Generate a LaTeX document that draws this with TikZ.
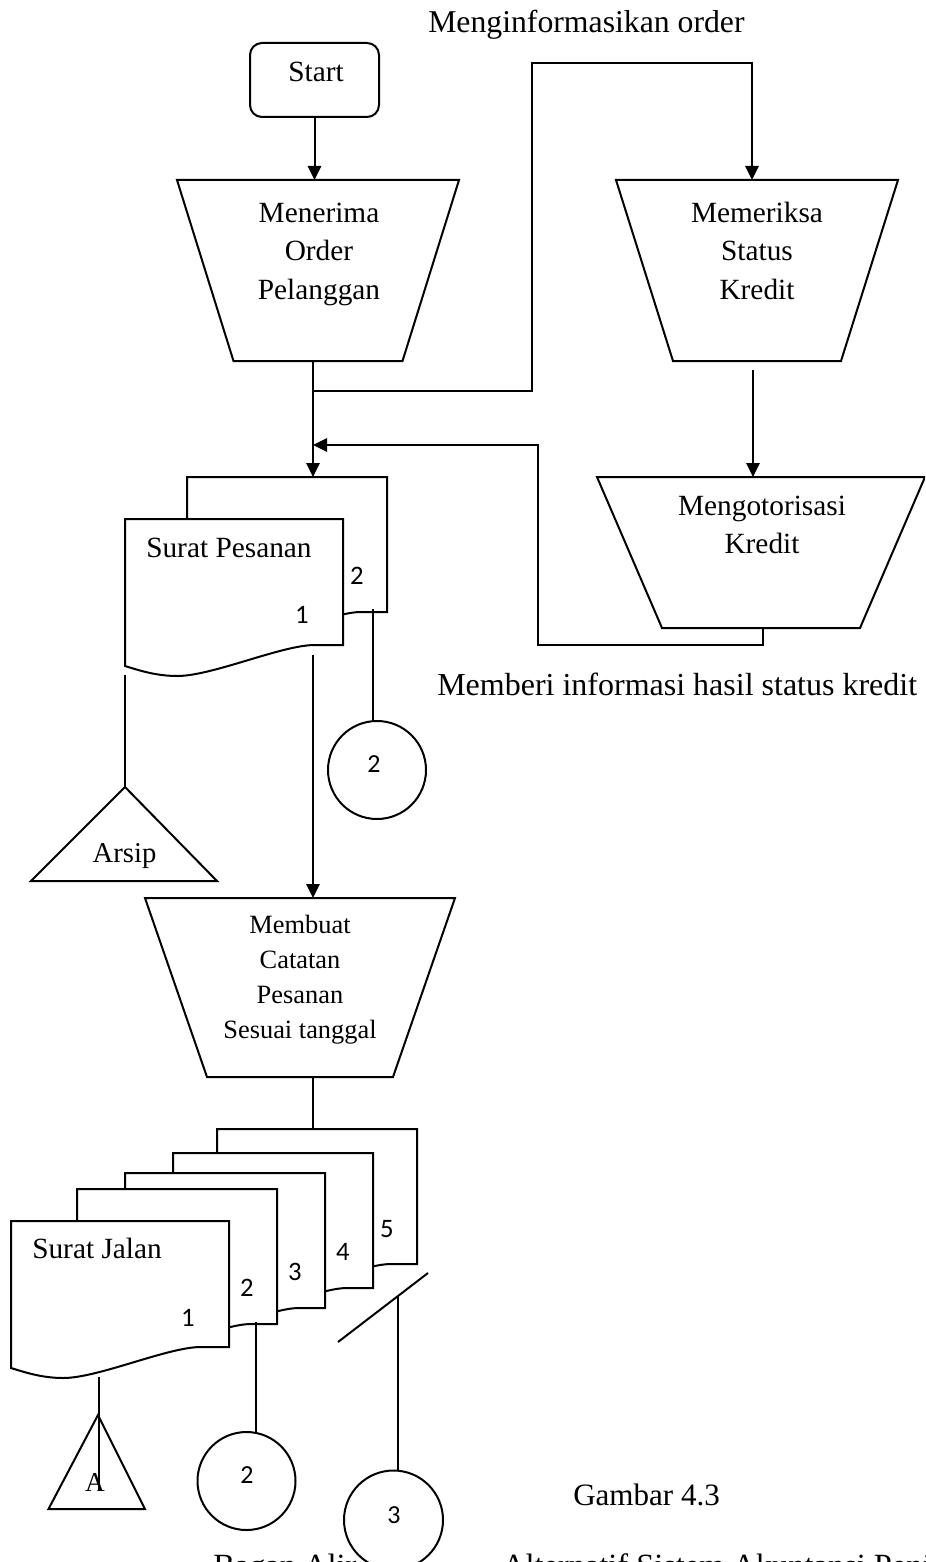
\documentclass[tikz,border=0pt]{standalone}
\usepackage{fontspec}
\setmainfont{Liberation Serif}
\newfontfamily\digitfont{Carlito}
\usetikzlibrary{arrows.meta}

% paper sheet with a wavy lower edge: top-left x, top-left y, width, height of the right edge
\newcommand{\papersheet}[4]{%
  \path[sheet] (#1,#2) -- ({#1+#3},#2) -- ({#1+#3},{#2+#4}) -- ({#1+0.87*#3},{#2+#4})
    .. controls ({#1+0.72*#3},{#2+#4}) and ({#1+0.40*#3},{#2+#4+31}) .. ({#1+0.24*#3},{#2+#4+31})
    .. controls ({#1+0.14*#3},{#2+#4+31}) and ({#1+0.06*#3},{#2+#4+25}) .. (#1,{#2+#4+21})
    -- cycle;}

% manual operation block (wide top): name, centre x, centre y, top width, bottom width, height
\newcommand{\procblock}[6]{%
  \path[sheet] ({#2-#4/2},{#3-#6/2}) -- ({#2+#4/2},{#3-#6/2}) -- ({#2+#5/2},{#3+#6/2})
    -- ({#2-#5/2},{#3+#6/2}) -- cycle;
  \coordinate (#1-n) at (#2,{#3-#6/2});
  \coordinate (#1-s) at (#2,{#3+#6/2});}

\begin{document}
\begin{tikzpicture}[x=0.75pt,y=-0.75pt,
  ln/.style={line width=1.5pt},
  arr/.style={ln,-{Triangle[length=10.5pt,width=10pt]}},
  sheet/.style={ln,draw,fill=white,line join=miter},
  conn/.style={ln,draw,fill=white,circle,inner sep=0pt,outer sep=0pt},
  lbl/.style={inner sep=0pt,anchor=base,font=\fontsize{22pt}{26pt}\selectfont},
  lblsm/.style={inner sep=0pt,anchor=base,font=\fontsize{19.8pt}{24pt}\selectfont},
  note/.style={inner sep=0pt,anchor=base west,font=\fontsize{23.5pt}{28pt}\selectfont},
  num/.style={inner sep=0pt,anchor=base,font=\digitfont\fontsize{20pt}{24pt}\selectfont},
  numc/.style={inner sep=0pt,anchor=base,font=\digitfont\fontsize{19.5pt}{23pt}\selectfont},
]
\useasboundingbox (0,0) rectangle (925,1562);
\clip (0,0) rectangle (925,1562);
\fill[white] (0,0) rectangle (925,1562);

% terminal and process blocks
\node[ln,draw,rectangle,rounded corners=9pt,minimum width=96.75pt,minimum height=55.5pt,
  inner sep=0pt,outer sep=0pt] (start) at (314.5,80) {};
\procblock{mo}{318}{270.5}{282}{169}{181}
\procblock{me}{757}{270.5}{282}{168}{181}
\procblock{mk}{761}{552.5}{328}{198}{151}
\procblock{mb}{300}{987.5}{310}{186}{179}

% documents, back to front
\papersheet{187}{477}{200}{135}
\papersheet{125}{519}{218}{126}
\papersheet{217}{1129}{200}{135}
\papersheet{173}{1153}{200}{135}
\papersheet{125}{1173}{200}{135}
\papersheet{77}{1189}{200}{135}
\papersheet{11}{1221}{218}{126}

% archive triangles
\path[sheet] (125,787) coordinate (arsip) -- (217,881) -- (31,881) -- cycle;
\path[sheet] (98,1415) coordinate (tri) -- (145,1509) -- (48.5,1509) -- cycle;

% off-page connectors
\node[conn,minimum size=73.5pt] (c2a) at (377,770) {};
\node[conn,minimum size=73.5pt] (c2b) at (246.5,1481) {};

% junction points
\coordinate (j1) at (313,391);
\coordinate (j2) at (313,445);
\coordinate (spt) at (313,477);
\coordinate (t1) at (532,63);
\coordinate (t2) at (752,63);
\coordinate (m1) at (753,370);
\coordinate (b1) at (763,645);
\coordinate (b2) at (538,445);
\coordinate (s1) at (313,655);
\coordinate (s2) at (373,609);
\coordinate (s3) at (125,675);
\coordinate (sjt) at (313,1129);
\coordinate (d1) at (99,1377);
\coordinate (d2) at (256,1322);
\coordinate (d3) at (398,1296);
\coordinate (sl1) at (338,1342);
\coordinate (sl2) at (428,1273);
\coordinate (aend) at (99,1490);

% flow lines
\draw[arr] (start) -- (start |- mo-n);
\draw[arr] (mo-s -| j1) -- (spt);
\draw[arr] (j1) -| (t1) -- (t2) -- (t2 |- me-n);
\draw[arr] (m1) -- (m1 |- mk-n);
\draw[arr] (mk-s -| b1) -- (b1) -| (b2) -- (j2);
\draw[arr] (s1) -- (s1 |- mb-n);
\draw[ln] (s2) -- (s2 |- c2a.north);
\draw[ln] (s3) -- (arsip);
\draw[ln] (mb-s -| j1) -- (sjt);
\draw[ln] (d2) -- (d2 |- c2b.north);
\draw[ln] (sl1) -- (sl2);

% texts of the blocks
\node[lbl] (t-start) at (316,82) {Start};
\node[lbl] (t-mo1) at (319,223) {Menerima};
\node[lbl] (t-mo2) at (319,261) {Order};
\node[lbl] (t-mo3) at (319,299) {Pelanggan};
\node[lbl] (t-me1) at (757,223) {Memeriksa};
\node[lbl] (t-me2) at (757,261) {Status};
\node[lbl] (t-me3) at (757,299) {Kredit};
\node[lbl] (t-mk1) at (762,515) {Mengotorisasi};
\node[lbl] (t-mk2) at (762,553) {Kredit};
\node[lblsm] (t-mb1) at (300,933) {Membuat};
\node[lblsm] (t-mb2) at (300,968) {Catatan};
\node[lblsm] (t-mb3) at (300,1003) {Pesanan};
\node[lblsm] (t-mb4) at (300,1038) {Sesuai tanggal};
\node[lbl,anchor=base west] (t-sp) at (146,557) {Surat Pesanan};
\node[lbl,anchor=base west] (t-sj) at (32,1258) {Surat Jalan};
\node[lbl,font=\fontsize{21.5pt}{26pt}\selectfont] (t-arsip) at (124.5,862) {Arsip};
\node[lbl,font=\fontsize{20.5pt}{24pt}\selectfont] (t-a) at (95,1491) {A};

% copy numbers
\node[num] (n-sp1) at (302,623) {1};
\node[num] (n-sp2) at (357,584) {2};
\node[num] (n-sj1) at (188,1326) {1};
\node[num] (n-sj2) at (247,1296) {2};
\node[num] (n-sj3) at (295,1280) {3};
\node[num] (n-sj4) at (343,1260) {4};
\node[num] (n-sj5) at (387,1237) {5};
\node[numc] (n-c2a) at (374,772) {2};
\node[numc] (n-c2b) at (247,1483) {2};

\draw[ln] (d1) -- (aend);

% flow annotations and caption
\node[note,font=\fontsize{23.8pt}{28pt}\selectfont] (t-info) at (428,33) {Menginformasikan order};
\node[note,font=\fontsize{24pt}{28pt}\selectfont] (t-hasil) at (437,695) {Memberi informasi hasil status kredit};
\node[note,font=\fontsize{23.3pt}{28pt}\selectfont] (t-gbr) at (573,1505) {Gambar 4.3};
\node[note,font=\fontsize{24.3pt}{28pt}\selectfont] (t-cap1) at (213,1576) {Bagan Alir};
\node[note,font=\fontsize{24.3pt}{28pt}\selectfont] (t-cap2) at (502,1576) {Alternatif Sistem Akuntansi Penjualan};

% last connector lies over the caption
\node[conn,minimum size=74.25pt] (c3) at (393.5,1520) {};
\node[numc] (n-c3) at (394,1523) {3};
\draw[ln] (d3) -- (d3 |- c3.north);
\end{tikzpicture}
\end{document}
